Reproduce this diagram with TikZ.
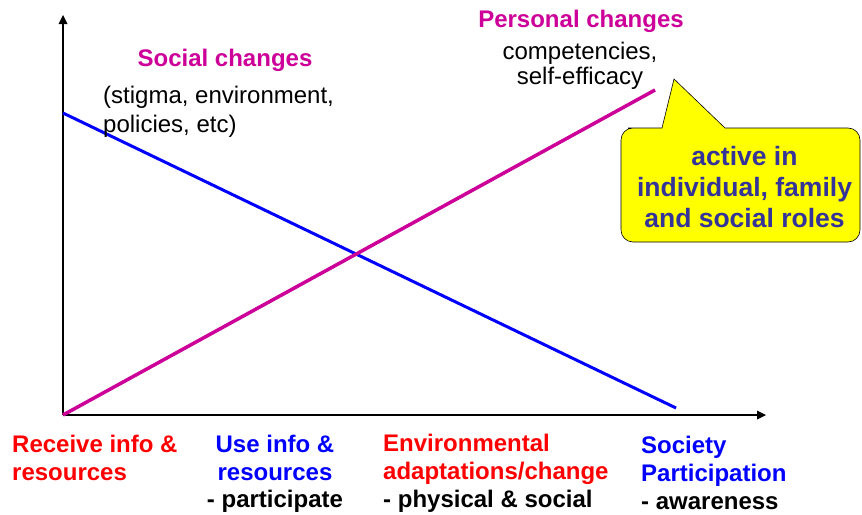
\documentclass[tikz,border=0pt]{standalone}
\usepackage{fontspec}
\setmainfont{Liberation Sans}
\definecolor{chgmag}{RGB}{204,0,153}
\definecolor{rolesblue}{RGB}{51,51,153}
\definecolor{balloon}{RGB}{255,255,0}

\begin{document}
\begin{tikzpicture}[scale=0.35146]
\tikzstyle{every node}+=[inner sep=0pt]
\tikzstyle{head}=[font=\fontsize{24}{28}\selectfont\bfseries]
\tikzstyle{plain}=[font=\fontsize{24}{29}\selectfont]
\useasboundingbox (0,0) rectangle (86.2,-51.5);
% axes
\coordinate (o) at (6.3,-41.5);
\coordinate (yend) at (6.3,-2.3);
\coordinate (ytip) at (6.3,-1.5);
\coordinate (xend) at (75.8,-41.5);
\coordinate (xtip) at (76.6,-41.5);
\draw [black, line width=2pt] (o) -- (yend);
\fill [black] (ytip) -- (5.85,-2.4) -- (6.75,-2.4);
\draw [black, line width=2pt] (o) -- (xend);
\fill [black] (xtip) -- (75.7,-41.05) -- (75.7,-41.95);
% the two lines
\coordinate (soctop) at (6.3,-11.3);
\coordinate (socend) at (67.6,-40.8);
\coordinate (perstop) at (65.5,-9.0);
\draw [blue, line width=3pt] (soctop) -- (socend);
\draw [chgmag, line width=3.5pt] (o) -- (perstop);
% upper labels (base = last line)
\node [head, chgmag, anchor=base] (soc) at (22.5,-6.6) {Social changes};
\node [plain, anchor=base west, align=left] (socx) at (10.3,-13.2) {(stigma, environment,\\policies, etc)};
\node [head, chgmag, anchor=base] (pers) at (58.1,-2.8) {Personal changes};
\node [anchor=base, align=center, font=\fontsize{24}{25}\selectfont] (persx) at (58.0,-8.4) {competencies,\\self-efficacy};
% callout
\draw [black, fill=balloon, line width=0.6pt] (74,-24.2) [rounded corners=12pt] -- (62.1,-24.2) -- (62.1,-12.8) -- (64,-12.8) [sharp corners] -- (66.2,-12.8) -- (67.4,-7.9) -- (72.5,-12.8) -- (76,-12.8) [rounded corners=12pt] -- (86.0,-12.8) -- (86.0,-24.2) -- cycle;
\node [font=\fontsize{26.5}{31}\selectfont\bfseries, rolesblue, align=center, anchor=base] (roles) at (74.45,-22.7) {active in\\individual, family\\and social roles};
% axis labels
\node [head, red, anchor=base west, align=left] (recv) at (1.2,-48.0) {Receive info \&\\resources};
\node [head, blue, anchor=base, align=center] (use) at (27.5,-48.0) {Use info \&\\resources};
\node [head, anchor=base] (usex) at (27.5,-50.7) {- participate};
\node [head, red, anchor=base west, align=left] (env) at (38.3,-50.7) {Environmental\\adaptations/change\\{\color{black}- physical \& social}};
\node [head, blue, anchor=base west, align=left] (socp) at (64.1,-50.9) {Society\\Participation\\{\color{black}- awareness}};
\end{tikzpicture}
\end{document}
